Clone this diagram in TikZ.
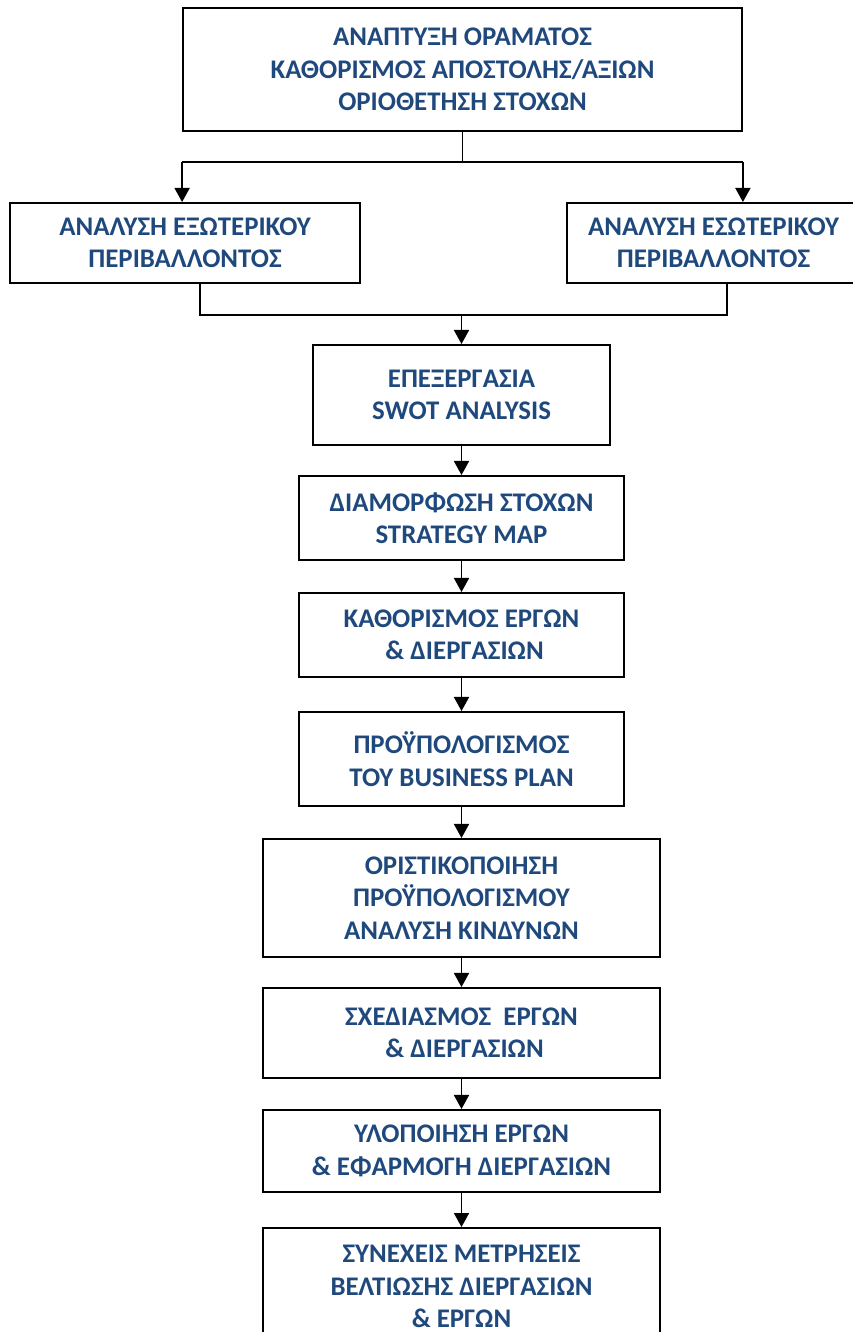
\documentclass[tikz,border=0pt]{standalone}
\usepackage{fontspec}
\setmainfont{Carlito}
\usetikzlibrary{arrows.meta}
\definecolor{stepblue}{RGB}{31,73,125}

\begin{document}
\begin{tikzpicture}[x = 0.02cm, y = -0.02cm, every node/.style={draw, line width = 1.1pt, align = center, text = stepblue, font = \fontsize{15.3}{18.4}\selectfont\bfseries}, arr/.style={-{Triangle[length = 8pt, width = 8.5pt]}}, line width = 1.1pt]

  \useasboundingbox (0, 0) rectangle (852, 1332);

  \node[minimum width = 11.18cm, minimum height = 2.46cm] (vision) at (462.5, 69.5) {ΑΝΑΠΤΥΞΗ ΟΡΑΜΑΤΟΣ\\ ΚΑΘΟΡΙΣΜΟΣ ΑΠΟΣΤΟΛΗΣ/ΑΞΙΩΝ\\ ΟΡΙΟΘΕΤΗΣΗ ΣΤΟΧΩΝ};

  \node[minimum width = 7cm, minimum height = 1.6cm] (ext) at (185, 243) {ΑΝΑΛΥΣΗ ΕΞΩΤΕΡΙΚΟΥ\\ ΠΕΡΙΒΑΛΛΟΝΤΟΣ};
  \node[minimum width = 5.86cm, minimum height = 1.6cm] (int) at (713.5, 243) {ΑΝΑΛΥΣΗ ΕΣΩΤΕΡΙΚΟΥ\\ ΠΕΡΙΒΑΛΛΟΝΤΟΣ};

  \node[minimum width = 5.94cm, minimum height = 2cm] (swot) at (461.5, 395) {ΕΠΕΞΕΡΓΑΣΙΑ\\ SWOT ANALYSIS};
  \node[minimum width = 6.5cm, minimum height = 1.68cm] (goals) at (461.5, 518) {ΔΙΑΜΟΡΦΩΣΗ ΣΤΟΧΩΝ\\ STRATEGY MAP};
  \node[minimum width = 6.5cm, minimum height = 1.68cm] (projects) at (461.5, 635) {ΚΑΘΟΡΙΣΜΟΣ ΕΡΓΩΝ\\ \ \& ΔΙΕΡΓΑΣΙΩΝ};
  \node[minimum width = 6.5cm, minimum height = 1.88cm] (budget) at (461.5, 759) {ΠΡΟΫΠΟΛΟΓΙΣΜΟΣ\\ ΤΟΥ BUSINESS PLAN};
  \node[minimum width = 7.94cm, minimum height = 2.36cm] (final) at (461.5, 898) {ΟΡΙΣΤΙΚΟΠΟΙΗΣΗ\\ ΠΡΟΫΠΟΛΟΓΙΣΜΟΥ\\ ΑΝΑΛΥΣΗ ΚΙΝΔΥΝΩΝ};
  \node[minimum width = 7.94cm, minimum height = 1.8cm] (design) at (461.5, 1033) {ΣΧΕΔΙΑΣΜΟΣ\ \ ΕΡΓΩΝ\\ \ \& ΔΙΕΡΓΑΣΙΩΝ};
  \node[minimum width = 7.94cm, minimum height = 1.64cm] (impl) at (461.5, 1151) {ΥΛΟΠΟΙΗΣΗ ΕΡΓΩΝ\\ \& ΕΦΑΡΜΟΓΗ ΔΙΕΡΓΑΣΙΩΝ};
  \node[minimum width = 7.94cm, minimum height = 2.34cm] (monitor) at (461.5, 1286.5) {ΣΥΝΕΧΕΙΣ ΜΕΤΡΗΣΕΙΣ\\ ΒΕΛΤΙΩΣΗΣ ΔΙΕΡΓΑΣΙΩΝ\\ \& ΕΡΓΩΝ};

  % split under the vision box
  \coordinate (split) at (462.5, 162);
  \draw (vision.south) -- (split);
  \draw (vision.west |- split) -- (vision.east |- split);
  \draw[arr] (vision.west |- split) -- (vision.west |- ext.north);
  \draw[arr] (vision.east |- split) -- (vision.east |- int.north);

  % merge of the two analyses
  \coordinate (merge) at (461.5, 315);
  \coordinate (joinL) at ([xshift = 0.3cm]ext.south);
  \coordinate (joinR) at ([xshift = 0.27cm]int.south);
  \draw (joinL) -- (joinL |- merge) -- (joinR |- merge) -- (joinR);
  \draw[arr] (merge) -- (swot);

  \draw[arr] (swot) -- (goals);
  \draw[arr] (goals) -- (projects);
  \draw[arr] (projects) -- (budget);
  \draw[arr] (budget) -- (final);
  \draw[arr] (final) -- (design);
  \draw[arr] (design) -- (impl);
  \draw[arr] (impl) -- (monitor);

\end{tikzpicture}
\end{document}
